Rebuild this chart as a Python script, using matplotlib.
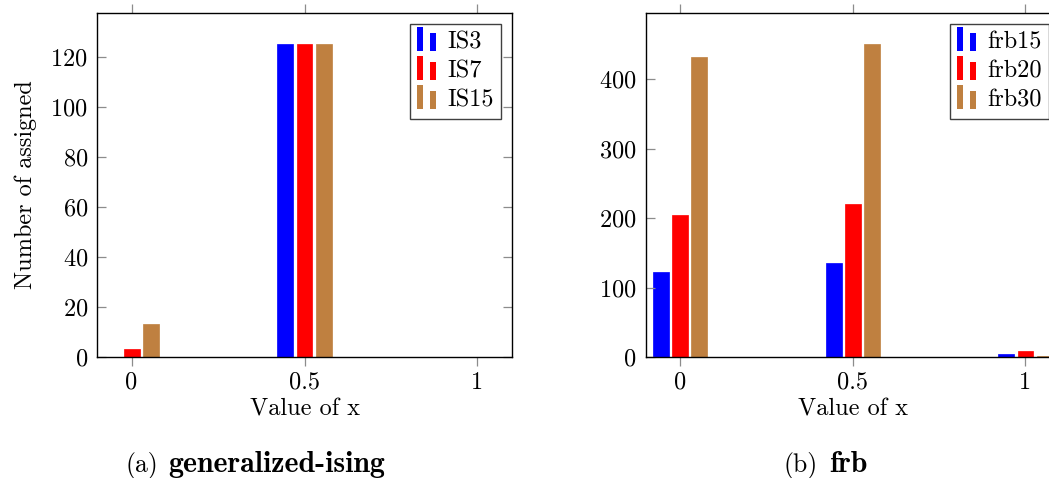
import matplotlib
matplotlib.use("Agg")
import matplotlib.pyplot as plt
from matplotlib.patches import Rectangle
from matplotlib.legend_handler import HandlerBase

# data
x_vals = [0, 0.5, 1]
x_labels = ["0", "0.5", "1"]

ising_names = ["IS3", "IS7", "IS15"]
ising_counts = [
    [0, 125, 0],
    [3, 125, 0],
    [13, 125, 0],
]

frb_names = ["frb15", "frb20", "frb30"]
frb_counts = [
    [123, 135, 4],
    [204, 220, 8],
    [431, 450, 2],
]

colors = ["#0000ff", "#ff0000", "#bf8040"]

plt.rcParams["font.family"] = "serif"
plt.rcParams["font.serif"] = ["cmr10"]
plt.rcParams["mathtext.fontset"] = "cm"
plt.rcParams["axes.unicode_minus"] = False
plt.rcParams["axes.formatter.use_mathtext"] = True

FS = 17.5
CAP_FS = 21.5


class TwoBars(HandlerBase):
    # pgfplots style legend image: a tall bar and a shorter one
    def create_artists(self, legend, orig_handle, xdescent, ydescent,
                       width, height, fontsize, trans):
        c = orig_handle.get_facecolor()
        w = width * 0.32
        y0 = -ydescent - 0.15 * height
        tall = Rectangle((-xdescent, y0), w, height * 1.4,
                         facecolor=c, edgecolor="none", transform=trans)
        short = Rectangle((-xdescent + width - w, y0), w, height * 1.05,
                          facecolor=c, edgecolor="none", transform=trans)
        return [tall, short]


def bar_panel(ax, counts, names, ymax):
    width = 0.046
    step = 0.0555
    handles = []
    for i, (vals, name) in enumerate(zip(counts, names)):
        xs = [x + (i - 1) * step for x in x_vals]
        b = ax.bar(xs, vals, width=width, color=colors[i],
                   edgecolor=colors[i], linewidth=0.5, label=name)
        handles.append(b.patches[0])
    ax.set_xlim(-0.1, 1.1)
    ax.set_ylim(0, ymax)
    ax.set_xticks(x_vals)
    ax.set_xticklabels(x_labels)
    ax.tick_params(axis="x", direction="out", top=True, length=6.5,
                   width=0.9, color="0.55", labelsize=FS, pad=4)
    ax.tick_params(axis="y", direction="in", right=True, length=6.5,
                   width=0.9, color="0.55", labelsize=FS, pad=6.5)
    for s in ax.spines.values():
        s.set_linewidth(1.0)
    ax.set_xlabel("Value of x", fontsize=FS, labelpad=3)
    ax.legend(handles, names, handler_map={Rectangle: TwoBars()},
              loc="upper right", fontsize=FS, frameon=True, fancybox=False,
              framealpha=1, edgecolor="0.25", handlelength=0.78,
              handletextpad=0.45, borderpad=0.3, labelspacing=0.28,
              borderaxespad=0.45)


fig = plt.figure(figsize=(10.49, 4.78), dpi=100)
ax1 = fig.add_axes([97 / 1049, 121 / 478, 415 / 1049, 344 / 478])
ax2 = fig.add_axes([645.5 / 1049, 121 / 478, 414.5 / 1049, 344 / 478])

bar_panel(ax1, ising_counts, ising_names, max(max(r) for r in ising_counts) * 1.1)
bar_panel(ax2, frb_counts, frb_names, max(max(r) for r in frb_counts) * 1.1)
ax1.set_yticks([0, 20, 40, 60, 80, 100, 120])
ax2.set_yticks([0, 100, 200, 300, 400])
ax1.set_ylabel("Number of assigned", fontsize=FS, labelpad=9.5)

# sub-captions
cy = 1 - 472 / 478
fig.text(126 / 1049, cy, "(a)", fontsize=18.5, ha="left", va="baseline")
fig.text(168 / 1049, cy, "generalized-ising", fontsize=CAP_FS, ha="left",
         va="baseline", family="cmb10")
fig.text(784 / 1049, cy, "(b)", fontsize=18.5, ha="left", va="baseline")
fig.text(829 / 1049, cy, "frb", fontsize=CAP_FS, ha="left", va="baseline",
         family="cmb10")

fig.savefig("out.png", dpi=100)
